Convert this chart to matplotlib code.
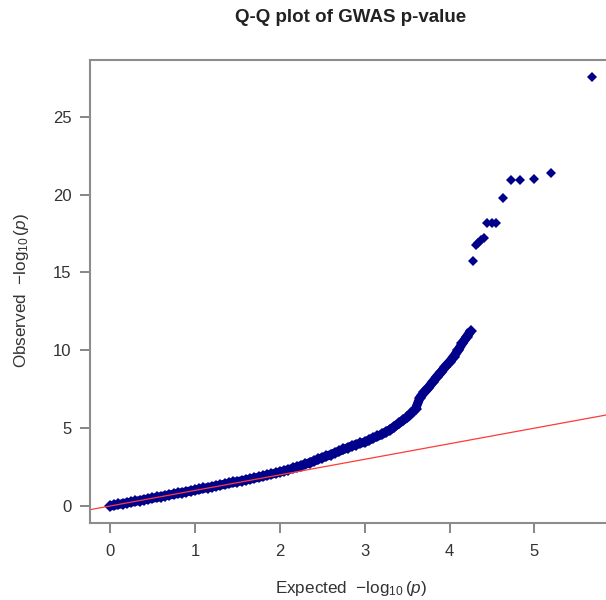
import matplotlib
matplotlib.use('Agg')
import matplotlib.pyplot as plt

plt.rcParams['font.family'] = ['Liberation Sans', 'DejaVu Sans']
plt.rcParams['mathtext.fontset'] = 'custom'
plt.rcParams['mathtext.rm'] = 'Liberation Sans'
plt.rcParams['mathtext.it'] = 'Liberation Sans:italic'

# expected vs observed -log10(p)
expected = [0.00, 0.05, 0.10, 0.15, 0.20, 0.25, 0.30, 0.35, 0.40, 0.45,
            0.50, 0.55, 0.60, 0.65, 0.70, 0.75, 0.80, 0.85, 0.90, 0.95,
            1.00, 1.05, 1.10, 1.15, 1.20, 1.25, 1.30, 1.35, 1.40, 1.45,
            1.50, 1.55, 1.60, 1.65, 1.70, 1.75, 1.80, 1.85, 1.90, 1.95,
            2.00, 2.05, 2.10, 2.15, 2.20, 2.25, 2.30, 2.35, 2.40, 2.45,
            2.50, 2.55, 2.60, 2.65, 2.70, 2.75, 2.80, 2.85, 2.90, 2.95,
            3.00, 3.05, 3.10, 3.15, 3.20, 3.25, 3.30, 3.35, 3.40, 3.45,
            3.50, 3.55, 3.60, 3.65, 3.70, 3.75, 3.80, 3.85, 3.90, 3.95,
            4.00, 4.05, 4.10, 4.15, 4.20, 4.25]
observed = [0.00, 0.05, 0.10, 0.15, 0.20, 0.25, 0.30, 0.35, 0.40, 0.45,
            0.50, 0.55, 0.60, 0.66, 0.71, 0.76, 0.81, 0.86, 0.91, 0.97,
            1.02, 1.07, 1.13, 1.18, 1.23, 1.29, 1.34, 1.40, 1.45, 1.51,
            1.56, 1.62, 1.67, 1.73, 1.79, 1.85, 1.91, 1.98, 2.04, 2.11,
            2.18, 2.25, 2.33, 2.41, 2.50, 2.59, 2.68, 2.78, 2.88, 2.99,
            3.10, 3.20, 3.30, 3.41, 3.52, 3.63, 3.74, 3.85, 3.95, 4.03,
            4.10, 4.23, 4.37, 4.48, 4.60, 4.75, 4.90, 5.10, 5.30, 5.50,
            5.70, 5.95, 6.25, 6.95, 7.30, 7.60, 7.95, 8.30, 8.60, 8.95,
            9.25, 9.60, 10.00, 10.45, 10.85, 11.25]

# top hits
top_expected = [4.28, 4.31, 4.34, 4.37, 4.40, 4.44, 4.50, 4.55, 4.63,
                4.72, 4.83, 4.99, 5.20, 5.68]
top_observed = [15.75, 16.76, 16.90, 17.05, 17.20, 18.20, 18.20, 18.20, 19.80,
                20.95, 20.95, 21.00, 21.40, 27.55]

x_ticks = [0, 1, 2, 3, 4, 5]
y_ticks = [0, 5, 10, 15, 20, 25]

NAVY = '#00008B'


def main():
    fig = plt.figure(figsize=(6.06, 6.0), dpi=100)
    ax = fig.add_axes([0.1485, 0.1283, 0.8614, 0.7717])

    # the bulk of the points overlap into a thick band
    ax.plot(expected, observed, '-', color=NAVY, linewidth=6.5,
            solid_capstyle='butt', solid_joinstyle='round')
    ax.plot(expected, observed, 'D', color=NAVY, markersize=6.6, markeredgewidth=0)
    ax.plot(top_expected, top_observed, 'D', color=NAVY, markersize=5.4,
            markeredgewidth=0)
    ax.axline((0, 0), slope=1, color='#ff3a3a', linewidth=0.9)

    ax.set_xlim(-0.2356, 5.913)
    ax.set_ylim(-1.092, 28.64)
    ax.set_xticks(x_ticks)
    ax.set_yticks(y_ticks)

    for side in ['top', 'left', 'bottom', 'right']:
        ax.spines[side].set_color('#8c8c8c')
        ax.spines[side].set_linewidth(1.5)
    ax.tick_params(axis='both', direction='out', length=7.2, width=1.1,
                   color='#666666', labelcolor='#333333', labelsize=12)
    ax.tick_params(axis='x', pad=8)
    ax.tick_params(axis='y', pad=6)

    fig.text(351 / 606, 1 - 18 / 600, 'Q-Q plot of GWAS p-value',
             ha='center', va='center', fontsize=13.5, fontweight='bold', color='#222222')
    fig.text(351 / 606, 1 - 588 / 600, r'Expected  $-\log_{10}(p)$',
             ha='center', va='center', fontsize=12.3, color='#333333')
    fig.text(22 / 606, 1 - 291 / 600, r'Observed  $-\log_{10}(p)$',
             ha='center', va='center', rotation=90, fontsize=12.3, color='#333333')

    fig.savefig('out.png', dpi=100)


if __name__ == '__main__':
    main()
